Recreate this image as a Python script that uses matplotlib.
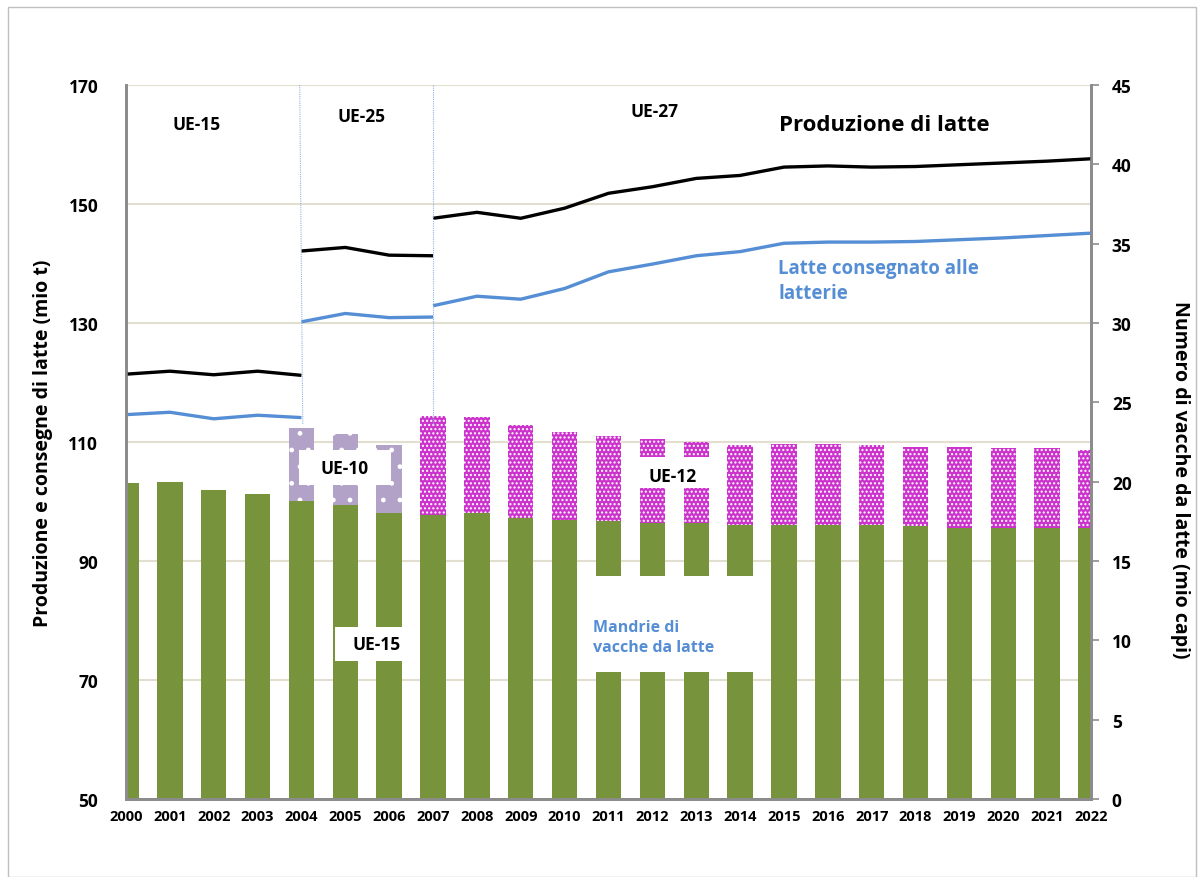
#! /usr/bin/env python3

# Milk production, deliveries and dairy cow herds in the EU, 2000-2022.

import numpy as np
import matplotlib
matplotlib.use('Agg')
import matplotlib.pyplot as plt
from matplotlib.patches import Rectangle

years = [str(y) for y in range(2000, 2023)]

# Milk production and deliveries (mio t), split by EU composition
prodUE15 = [121.4, 121.9, 121.3, 121.9, 121.2]            # 2000-2004
delivUE15 = [114.6, 115.0, 113.9, 114.5, 114.1]
prodUE25 = [142.1, 142.7, 141.4, 141.3]                   # 2004-2007
delivUE25 = [130.2, 131.6, 130.9, 131.0]
prodUE27 = [147.6, 148.6, 147.6, 149.3, 151.8, 152.9, 154.3, 154.8,
            156.2, 156.4, 156.2, 156.3, 156.6, 156.9, 157.2, 157.6]   # 2007-2022
delivUE27 = [132.9, 134.5, 134.0, 135.8, 138.6, 139.9, 141.3, 142.0,
             143.4, 143.6, 143.6, 143.7, 144.0, 144.3, 144.7, 145.1]

# Dairy cows (mio head)
cowsUE15 = [19.9, 20.0, 19.5, 19.2, 18.8, 18.5, 18.0, 17.9, 18.0, 17.7, 17.6, 17.5,
            17.4, 17.4, 17.3, 17.3, 17.3, 17.3, 17.2, 17.1, 17.1, 17.1, 17.1]
cowsTotUE25 = [23.4, 23.0, 22.3]                          # 2004-2006
cowsTotUE27 = [24.15, 24.1, 23.6, 23.1, 22.85, 22.7, 22.5, 22.3,
               22.4, 22.4, 22.3, 22.2, 22.2, 22.1, 22.1, 22.0]       # 2007-2022

plt.rcParams['font.family'] = ['Open Sans', 'DejaVu Sans']
plt.rcParams['hatch.linewidth'] = 1.0

green = '#77933C'
purple = '#B3A2C7'
magenta = '#CC33CC'
blue = '#558ED5'
gridc = '#E3DFD0'
spinec = '#8C8C8C'

fig = plt.figure(figsize=(12.03, 8.78), dpi=100)
fig.add_artist(Rectangle((8/1203, 0), 1188/1203, 870/878, transform=fig.transFigure,
                         fill=False, edgecolor='#BFBFBF', linewidth=1))

pos = [126/1203, 78/878, 965/1203, 714/878]
ax = fig.add_axes(pos)          # left scale: grid + ticks
axB = ax.twinx()                # right scale: bars
axL = ax.twinx()                # left scale again: lines on top

x = np.arange(len(years))
xl = (0, len(years) - 1)

#Left axis
ax.set_ylim(50, 170)
ax.set_yticks(np.arange(50, 171, 20))
ax.set_xlim(xl)
ax.grid(axis='y', color=gridc, linewidth=1.5)
ax.set_axisbelow(True)
ax.tick_params(axis='y', length=0, pad=20, labelsize=12.5)
for lab in ax.get_yticklabels():
  lab.set_fontweight('bold')
ax.set_xticks(x)
ax.set_xticklabels(years, fontsize=10.5, fontweight='bold')
ax.tick_params(axis='x', length=0, pad=7)
ax.set_ylabel('Produzione e consegne di latte (mio t)', fontsize=14, fontweight='bold',
              labelpad=11)

#Bars on right axis
axB.set_zorder(ax.get_zorder() + 1)
axB.set_ylim(0, 45)
axB.set_xlim(xl)
axB.set_yticks(np.arange(0, 46, 5))
axB.tick_params(axis='y', length=6, width=1.2, color=spinec, pad=9, labelsize=12.5)
for lab in axB.get_yticklabels():
  lab.set_fontweight('bold')
axB.set_ylabel('Numero di vacche da latte (mio capi)', fontsize=14, fontweight='bold',
               rotation=270, va='center')
axB.yaxis.set_label_coords(1.092, 0.448)
bw = 0.58
axB.bar(x, cowsUE15, width=bw, color=green, linewidth=0)
i25 = np.arange(4, 7)
axB.bar(i25, np.array(cowsTotUE25) - np.array(cowsUE15)[i25], bottom=np.array(cowsUE15)[i25],
        width=bw, color=purple, edgecolor='white', linewidth=0, hatch='.')
i27 = np.arange(7, 23)
axB.bar(i27, np.array(cowsTotUE27) - np.array(cowsUE15)[i27], bottom=np.array(cowsUE15)[i27],
        width=bw, color=magenta, edgecolor='white', linewidth=0, hatch='....')

#Lines on left scale
axL.set_zorder(axB.get_zorder() + 1)
axL.set_ylim(50, 170)
axL.set_xlim(xl)
axL.set_yticks([])
axL.plot(x[0:5], prodUE15, color='black', linewidth=2.4, solid_capstyle='butt')
axL.plot(x[0:5], delivUE15, color=blue, linewidth=2.4, solid_capstyle='butt')
axL.plot(x[4:8], prodUE25, color='black', linewidth=2.4, solid_capstyle='butt')
axL.plot(x[4:8], delivUE25, color=blue, linewidth=2.4, solid_capstyle='butt')
axL.plot(x[7:], prodUE27, color='black', linewidth=2.4, solid_capstyle='butt')
axL.plot(x[7:], delivUE27, color=blue, linewidth=2.4, solid_capstyle='butt')

#Separators between EU compositions
axL.plot([3.96, 4.03], [170, 113], color='#8DB4E2', linewidth=0.8, linestyle=(0, (1, 1)))
axL.plot([7.0, 7.0], [170, 113], color='#8DB4E2', linewidth=0.8, linestyle=(0, (1, 1)))

#White label boxes over the bars
boxes = [(3.94, 102.7, 2.10, 5.9), (11.38, 102.2, 2.05, 5.2),
         (4.77, 73.2, 1.89, 5.7), (10.47, 71.3, 4.21, 16.2)]
for bx, by, bwid, bh in boxes:
  axL.add_patch(Rectangle((bx, by), bwid, bh, facecolor='white', edgecolor='none', zorder=3))

tk = dict(fontsize=12.5, fontweight='bold', ha='center', va='center', zorder=4)
axL.text(4.99, 105.6, 'UE-10', **tk)
axL.text(12.47, 104.3, 'UE-12', **tk)
axL.text(5.72, 76.1, 'UE-15', **tk)
axL.text(10.65, 77.2, 'Mandrie di\nvacche da latte', fontsize=11.5, fontweight='bold',
         color=blue, ha='left', va='center', linespacing=1.3, zorder=4)

axL.text(1.62, 163.4, 'UE-15', **tk)
axL.text(5.38, 164.8, 'UE-25', **tk)
axL.text(12.06, 165.6, 'UE-27', **tk)
axL.text(17.28, 163.3, 'Produzione di latte', fontsize=16, fontweight='bold',
         ha='center', va='center')
axL.text(14.87, 137.1, 'Latte consegnato alle\nlatterie', fontsize=13.5, fontweight='bold',
         color=blue, ha='left', va='center', linespacing=1.35)

for a in (ax, axB, axL):
  a.spines['top'].set_visible(False)
  for s in ('left', 'right', 'bottom'):
    a.spines[s].set_color(spinec)
    a.spines[s].set_linewidth(1.8)

fig.savefig('out.png', dpi=100)
